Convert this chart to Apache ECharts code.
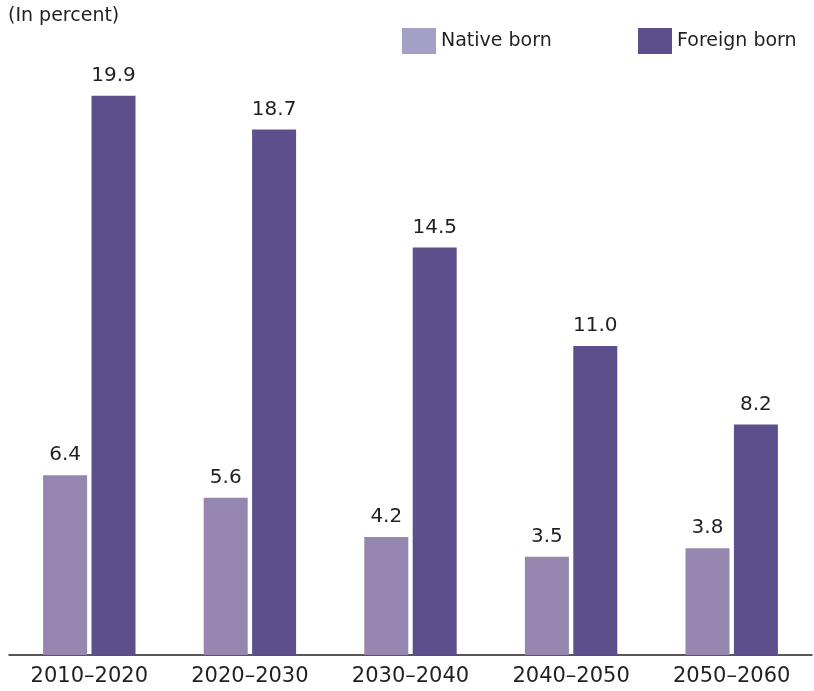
<!DOCTYPE html>
<html>
<head>
<meta charset="utf-8">
<script src="https://cdn.jsdelivr.net/npm/echarts@6/dist/echarts.min.js"></script>
<style>
  html, body { margin: 0; padding: 0; background: #fff; }
  #main { width: 814px; height: 691px; }
</style>
</head>
<body>
<div id="main"></div>
<script>
var decades = ['2010–2020', '2020–2030', '2030–2040', '2040–2050', '2050–2060']
var nativeBorn = [6.4, 5.6, 4.2, 3.5, 3.8]
var foreignBorn = [19.9, 18.7, 14.5, 11.0, 8.2]

var txt = '#231f20'
var font = 'DejaVu Sans'

var myChart = echarts.init(document.getElementById('main'))
var option = {
  animation: false,
  textStyle: { fontFamily: font },
  title: {
    text: '(In percent)',
    left: 3,
    top: 2,
    textStyle: { fontSize: 19, fontWeight: 'normal', color: txt, fontFamily: font }
  },
  legend: [
    {
      data: [{ name: 'Native born', itemStyle: { color: '#a39fc5' } }],
      left: 397, top: 23,
      itemWidth: 34, itemHeight: 26, itemGap: 10,
      icon: 'rect',
      textStyle: { fontSize: 19, color: txt, fontFamily: font }
    },
    {
      data: [{ name: 'Foreign born', itemStyle: { color: '#5c4f8c' } }],
      left: 633, top: 23,
      itemWidth: 34, itemHeight: 26,
      icon: 'rect',
      textStyle: { fontSize: 19, color: txt, fontFamily: font }
    }
  ],
  grid: { left: 9, right: 2, top: 93, bottom: 36, outerBoundsMode: 'none' },
  xAxis: {
    type: 'category',
    data: decades,
    axisTick: { show: false },
    axisLine: { lineStyle: { color: txt, width: 1.5 } },
    axisLabel: { fontSize: 21, color: txt, margin: 11, fontFamily: font }
  },
  yAxis: {
    type: 'value',
    min: 0,
    max: 20,
    show: false,
    splitLine: { show: false }
  },
  series: [
    {
      name: 'Native born',
      type: 'bar',
      data: nativeBorn,
      barWidth: 44,
      barGap: '10%',
      itemStyle: { color: '#9486ae' },
      label: {
        show: true, position: 'top', distance: 10,
        fontSize: 20, color: txt, fontFamily: font,
        formatter: function (p) { return p.value.toFixed(1) }
      }
    },
    {
      name: 'Foreign born',
      type: 'bar',
      data: foreignBorn,
      barWidth: 44,
      itemStyle: { color: '#5c4f8c' },
      label: {
        show: true, position: 'top', distance: 10,
        fontSize: 20, color: txt, fontFamily: font,
        formatter: function (p) { return p.value.toFixed(1) }
      }
    }
  ]
}
myChart.setOption(option)
</script>
</body>
</html>
